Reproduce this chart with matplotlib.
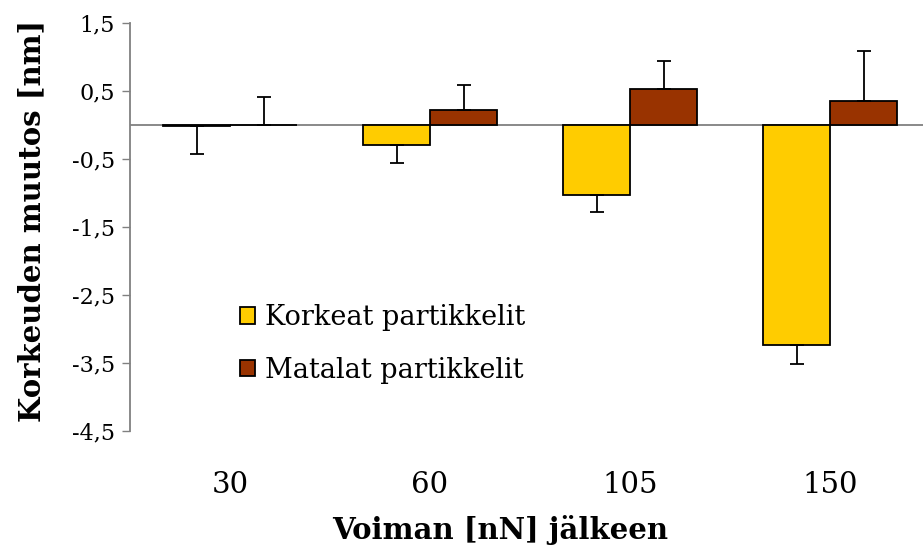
import matplotlib
matplotlib.use("Agg")
import matplotlib.pyplot as plt
import numpy as np

categories = ["30", "60", "105", "150"]
korkeat = [-0.02, -0.29, -1.03, -3.24]
korkeat_err = [0.40, 0.27, 0.25, 0.27]
matalat = [0.0, 0.22, 0.53, 0.35]
matalat_err = [0.41, 0.37, 0.41, 0.74]
yticks = [1.5, 0.5, -0.5, -1.5, -2.5, -3.5, -4.5]
ytick_labels = ["1,5", "0,5", "-0,5", "-1,5", "-2,5", "-3,5", "-4,5"]

plt.rcParams['font.family'] = ['DejaVu Serif']

W, H = 923, 553
fig = plt.figure(figsize=(W/100, H/100), dpi=100)
AW = W - 130
ax = fig.add_axes([130/W, 1-431/H, AW/W, (431-23)/H])

x = np.arange(len(categories))
bw = 0.335
c_k = "#FFCC00"
c_m = "#993300"
grey = "#808080"

ax.axhline(0, color=grey, lw=1.3, zorder=1)
ax.bar(x - bw/2, korkeat, bw, color=c_k, edgecolor="black", lw=1.3, zorder=2,
       label="Korkeat partikkelit")
ax.bar(x + bw/2, matalat, bw, color=c_m, edgecolor="black", lw=1.3, zorder=2,
       label="Matalat partikkelit")
ax.errorbar(x - bw/2, korkeat, yerr=[korkeat_err, [0]*4], fmt="none", ecolor="black",
            elinewidth=1.3, capsize=4.7, capthick=1.3, zorder=3)
ax.errorbar(x + bw/2, matalat, yerr=[[0]*4, matalat_err], fmt="none", ecolor="black",
            elinewidth=1.3, capsize=4.7, capthick=1.3, zorder=3)

ax.set_xlim(-0.5, -0.5 + AW/200)
ax.set_ylim(-4.5, 1.5)
ax.set_yticks(yticks)
ax.set_yticklabels(ytick_labels, fontsize=16)
ax.set_xticks(x)
ax.set_xticklabels(categories, fontsize=21)
ax.tick_params(axis="x", length=0, pad=29)
ax.tick_params(axis="y", direction="out", length=6, width=1, color=grey, pad=5)
for s in ["top", "right", "bottom"]:
    ax.spines[s].set_visible(False)
ax.spines["left"].set_color(grey)
ax.spines["left"].set_linewidth(1.3)

ax.set_ylabel("Korkeuden muutos [nm]", fontsize=21, fontweight="bold")
ax.yaxis.set_label_coords((46-130)/AW, 1-(221-23)/408)
fig.text(500/W, 1-530/H, "Voiman [nN] jälkeen", fontsize=21, fontweight="bold",
         ha="center", va="center")

leg = ax.legend(loc="upper left", bbox_to_anchor=((229-130)/AW, 1-(293-23)/408),
                frameon=False, fontsize=19.5, handlelength=0.56, handleheight=0.56,
                handletextpad=0.38, labelspacing=0.95, borderaxespad=0)

fig.savefig("out.png", dpi=100)
